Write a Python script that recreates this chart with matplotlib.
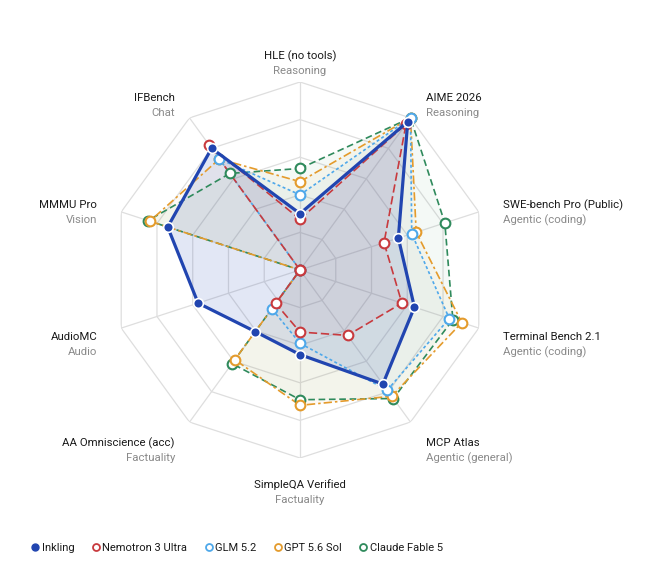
import numpy as np
import matplotlib
matplotlib.use("Agg")
import matplotlib.pyplot as plt
from matplotlib.lines import Line2D

plt.rcParams['font.family'] = ['Roboto', 'DejaVu Sans']

benchmarks = ["HLE (no tools)", "AIME 2026", "SWE-bench Pro (Public)", "Terminal Bench 2.1",
              "MCP Atlas", "SimpleQA Verified", "AA Omniscience (acc)", "AudioMC",
              "MMMU Pro", "IFBench"]
categories = ["Reasoning", "Reasoning", "Agentic (coding)", "Agentic (coding)",
              "Agentic (general)", "Factuality", "Factuality", "Audio", "Vision", "Chat"]

# normalised scores (0 = centre, 1 = outer ring)
inkling = [0.30, 0.975, 0.55, 0.64, 0.75, 0.45, 0.405, 0.57, 0.74, 0.80]
nemotron = [0.27, 0.96, 0.47, 0.57, 0.43, 0.33, 0.22, 0.0, 0.0, 0.82]
glm = [0.40, 1.0, 0.625, 0.835, 0.79, 0.39, 0.255, 0.0, 0.0, 0.73]
gpt = [0.47, 1.0, 0.65, 0.905, 0.83, 0.72, 0.59, 0.0, 0.84, 0.73]
claude = [0.54, 1.0, 0.81, 0.855, 0.845, 0.69, 0.615, 0.0, 0.85, 0.635]

# label offsets from each outer vertex, in pixels (right, down)
label_dx = [0, 15.5, 24, 24, 15.5, 0, -14.5, -24, -24, -14.5]
label_dy = [-18.5, -12.5, 0.5, 16.5, 28.5, 34.5, 28.5, 16.5, 0.5, -12.5]

series = [
    ("Claude Fable 5", claude, "#2f8a5c", (0, (4, 2.2)), 0.05),
    ("GPT 5.6 Sol", gpt, "#e49b2c", (0, (5, 1.8, 1.5, 1.8)), 0.05),
    ("GLM 5.2", glm, "#4ea8ea", (0, (1.8, 1.5)), 0.05),
    ("Nemotron 3 Ultra", nemotron, "#c83a3e", (0, (5, 2.2)), 0.05),
]

n = len(benchmarks)
theta = np.linspace(0, 2 * np.pi, n, endpoint=False)
theta_c = np.append(theta, theta[0])

fig = plt.figure(figsize=(6.6, 5.81), dpi=100)
cx, cy, R = 300 / 660, 1 - 270 / 581, 188
ax = fig.add_axes([cx - R / 660, cy - R / 581, 2 * R / 660, 2 * R / 581], projection='polar')
ax.set_theta_offset(np.pi / 2)
ax.set_theta_direction(-1)
ax.set_ylim(0, 1)
ax.grid(False)
ax.spines['polar'].set_visible(False)
ax.set_xticks([])
ax.set_yticks([])
ax.patch.set_alpha(0)

# decagon grid
for lvl in [0.2, 0.4, 0.6, 0.8, 1.0]:
    ax.plot(theta_c, [lvl] * (n + 1), color="#dedede", lw=0.9, zorder=1)
for t in theta:
    ax.plot([t, t], [0, 1], color="#dedede", lw=0.9, zorder=1)

for i, (name, vals, col, ls, a) in enumerate(series):
    v = np.append(vals, vals[0])
    ax.fill(theta_c, v, color=col, alpha=a, lw=0, zorder=2)
    ax.plot(theta_c, v, color=col, lw=1.2, linestyle=ls, zorder=3 + i, clip_on=False)
    ax.plot(theta, vals, 'o', ms=7, mfc='white', mec=col, mew=1.5, zorder=8 + i, clip_on=False)

v = np.append(inkling, inkling[0])
ax.fill(theta_c, v, color="#2447b3", alpha=0.13, lw=0, zorder=2)
ax.plot(theta_c, v, color="#2145b0", lw=2.3, zorder=14, clip_on=False)
ax.plot(theta, inkling, 'o', ms=7, mfc="#2145b0", mec='white', mew=1.2, zorder=15, clip_on=False)

# axis labels
px = 0.72  # points per pixel
for t, b, c, dx, dy in zip(theta, benchmarks, categories, label_dx, label_dy):
    ha = 'center' if dx == 0 else ('left' if dx > 0 else 'right')
    ax.annotate(b, (t, 1.0), xytext=(dx * px, (-dy + 7.5) * px), textcoords='offset points',
                ha=ha, va='center', fontsize=8.2, color="#1a1a1a", zorder=20)
    ax.annotate(c, (t, 1.0), xytext=(dx * px, (-dy - 7.5) * px), textcoords='offset points',
                ha=ha, va='center', fontsize=8.2, color="#8a8a8a", zorder=20)

handles = [
    Line2D([], [], marker='o', ls='', ms=5, mfc="#2145b0", mec="#2145b0", label="Inkling"),
    Line2D([], [], marker='o', ls='', ms=5, mfc='white', mec="#c83a3e", mew=1.3, label="Nemotron 3 Ultra"),
    Line2D([], [], marker='o', ls='', ms=5, mfc='white', mec="#4ea8ea", mew=1.3, label="GLM 5.2"),
    Line2D([], [], marker='o', ls='', ms=5, mfc='white', mec="#e49b2c", mew=1.3, label="GPT 5.6 Sol"),
    Line2D([], [], marker='o', ls='', ms=5, mfc='white', mec="#2f8a5c", mew=1.3, label="Claude Fable 5"),
]
fig.legend(handles=handles, loc='center left', bbox_to_anchor=(32 / 660, 1 - 548 / 581), ncol=5,
           frameon=False, fontsize=8, labelcolor="#1a1a1a",
           handletextpad=0.3, columnspacing=1.6, handlelength=0.6, borderpad=0, borderaxespad=0)

fig.savefig("out.png", dpi=100)
